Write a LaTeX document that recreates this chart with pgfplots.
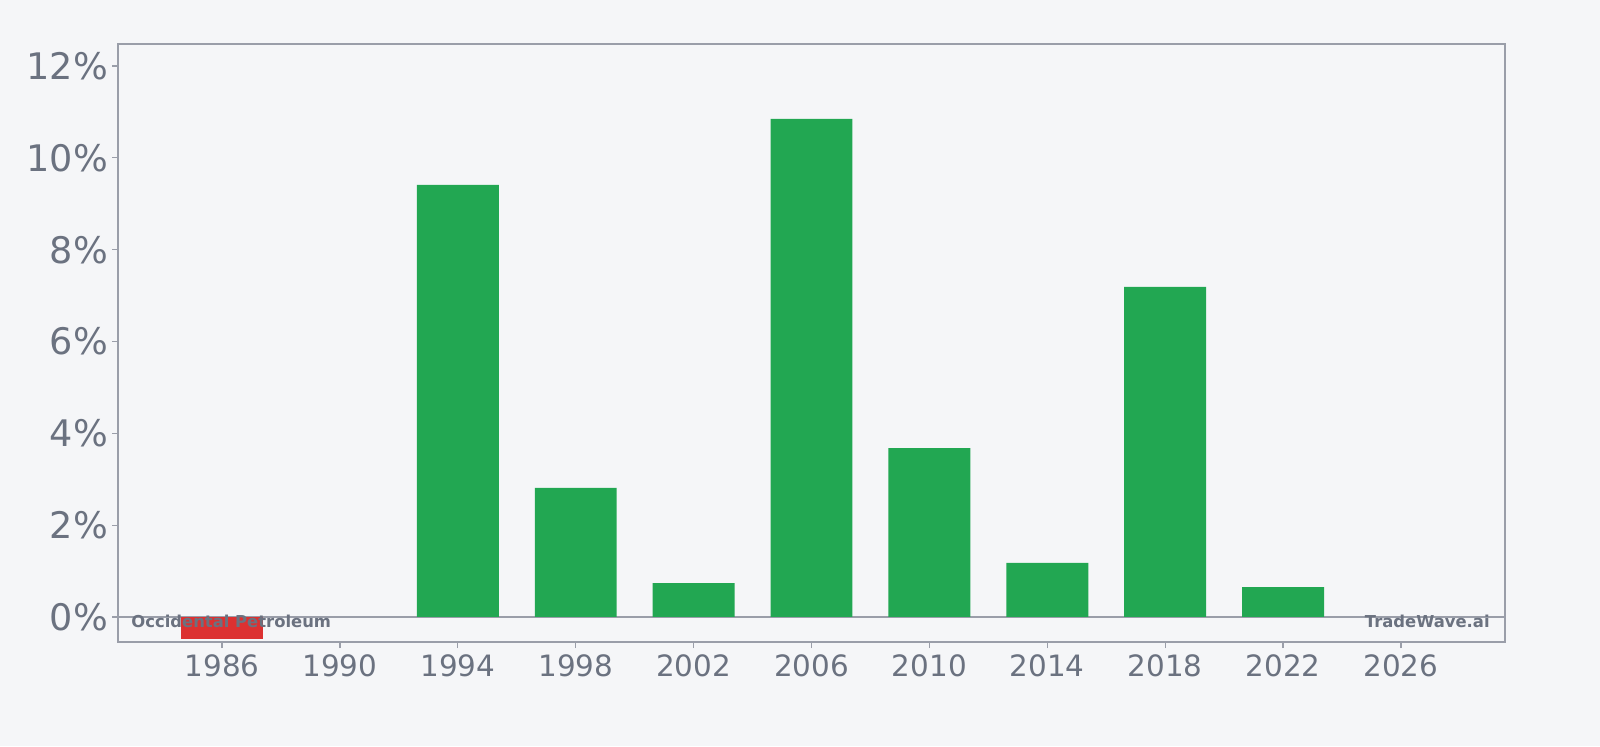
\documentclass[border=0pt]{standalone}
\usepackage{fontspec}
\setmainfont{DejaVu Sans}
\usepackage{pgfplots}
\pgfplotsset{compat=1.18}
\definecolor{bgc}{HTML}{F5F6F8}
\definecolor{txt}{HTML}{6B7280}
\definecolor{frame}{HTML}{9A9EA9}
\definecolor{up}{HTML}{22A752}
\definecolor{down}{HTML}{DC3131}
\begin{document}
\begin{tikzpicture}
\fill[bgc] (0,0) rectangle (800pt,373pt);
\begin{axis}[
    at={(59pt,52pt)}, anchor=south west,
    scale only axis,
    width=693.5pt, height=299pt,
    xmin=1982.47, xmax=2029.53,
    ymin=-0.545, ymax=12.48,
    xtick={1986,1990,...,2026},
    ytick={0,2,...,12},
    yticklabel={\pgfmathprintnumber{\tick}\%},
    /pgf/number format/assume math mode=true,
    x tick label style={font=\fontsize{14.7}{16}\selectfont, /pgf/number format/1000 sep={}},
    y tick label style={font=\fontsize{18.3}{20}\selectfont},
    ticklabel style={text=txt},
    xticklabel shift=0pt, yticklabel shift=-1.5pt,
    tick align=outside, tick pos=left,
    major tick length=3pt,
    tick style={frame, line width=0.6pt},
    axis line style={frame, line width=1pt},
    extra y ticks={0}, extra y tick labels={},
    extra y tick style={grid=major, major grid style={frame, line width=1pt}},
    ybar, bar width=2.78,
    clip=false,
]
\addplot[fill=down, draw=none, bar shift=0pt] coordinates {(1986,-0.48)};
\addplot[fill=up, draw=none, bar shift=0pt] coordinates {
    (1994,9.41) (1998,2.81) (2002,0.74) (2006,10.85) (2010,3.68)
    (2014,1.18) (2018,7.19) (2022,0.65)};
\end{axis}
\node[anchor=west, inner sep=0pt, text=txt, font=\bfseries\fontsize{8.2}{10}\selectfont] at (65.5pt,62.5pt) {Occidental Petroleum};
\node[anchor=east, inner sep=0pt, text=txt, font=\bfseries\fontsize{8.2}{10}\selectfont] at (745pt,62.5pt) {TradeWave.ai};
\pgfresetboundingbox
\path (0,0) rectangle (800pt,373pt);
\end{tikzpicture}
\end{document}
